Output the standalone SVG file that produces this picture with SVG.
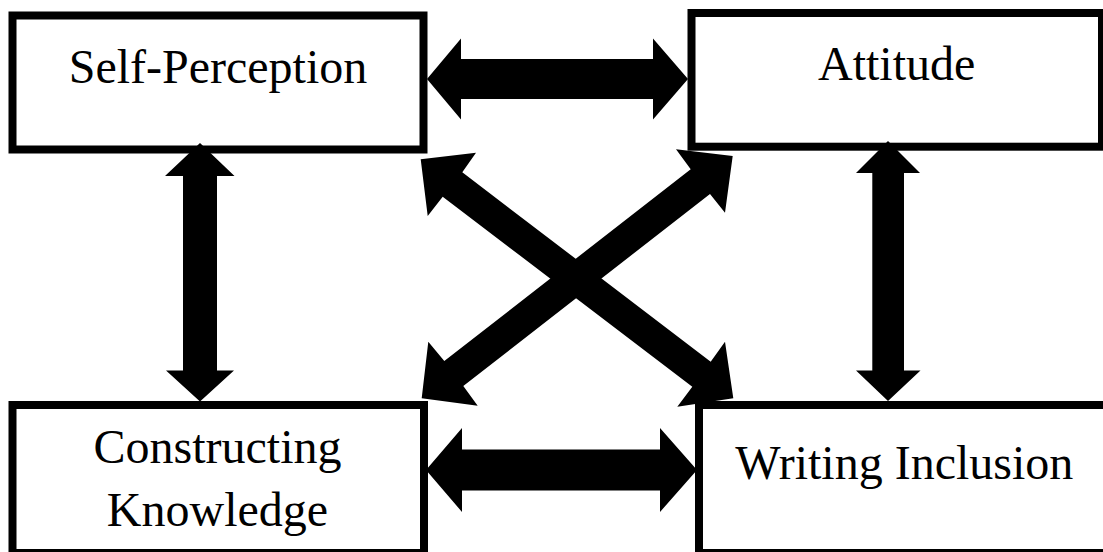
<svg xmlns="http://www.w3.org/2000/svg" width="1103" height="552" viewBox="0 0 1103 552">
<style>
.box{fill:#fff;stroke:#000;stroke-width:8}
.lbl{font-family:"Liberation Serif","Times New Roman",serif;font-size:48px;fill:#000;text-anchor:middle}
.arr{fill:#000;stroke:none}
</style>
<rect width="1103" height="552" fill="#fff"/>
<g id="self-perception">
<rect class="box" x="12.5" y="15.5" width="411" height="134"/>
<text class="lbl" x="218" y="83">Self-Perception</text>
</g>
<g id="attitude">
<rect class="box" x="691.5" y="13" width="410.5" height="133.7"/>
<text class="lbl" x="896.7" y="80">Attitude</text>
</g>
<g id="constructing-knowledge">
<rect class="box" x="12.5" y="405" width="411.5" height="148"/>
<text class="lbl" x="217.5" y="463.3">Constructing</text>
<text class="lbl" x="217.5" y="525.7">Knowledge</text>
</g>
<g id="writing-inclusion">
<rect class="box" x="699" y="405" width="420" height="148"/>
<text class="lbl" x="904.3" y="479">Writing Inclusion</text>
</g>
<g id="connectors">
<polygon class="arr" points="427,79 461,38.5 461,59 653,59 653,38.5 688,79 653,119.5 653,99 461,99 461,119.5"/>
<polygon class="arr" points="426,470 462,428 462,449.5 660,449.5 660,428 697,470 660,512 660,490.5 462,490.5 462,512"/>
<polygon class="arr" points="200,143 234.5,176 217,176 217,370.5 234,370.5 200,401.5 166,370.5 183,370.5 183,176 165,176"/>
<polygon class="arr" points="888,141 920,173 904,173 904,370.5 920.5,370.5 888,401 856,370.5 872.3,370.5 872.3,173 856,173"/>
<polygon class="arr" points="420.7,159.3 476,152.7 462.3,172.3 710.7,361.7 725,341.7 733.3,398.3 677.3,406.7 692.3,386.7 442.7,196.7 427.7,216"/>
<polygon class="arr" points="732.7,156 725,212.7 710,194 463.3,386 477.7,405.7 421.7,398.3 428.3,341.7 444.3,361 690.7,169.3 676,149.3"/>
</g>
</svg>
